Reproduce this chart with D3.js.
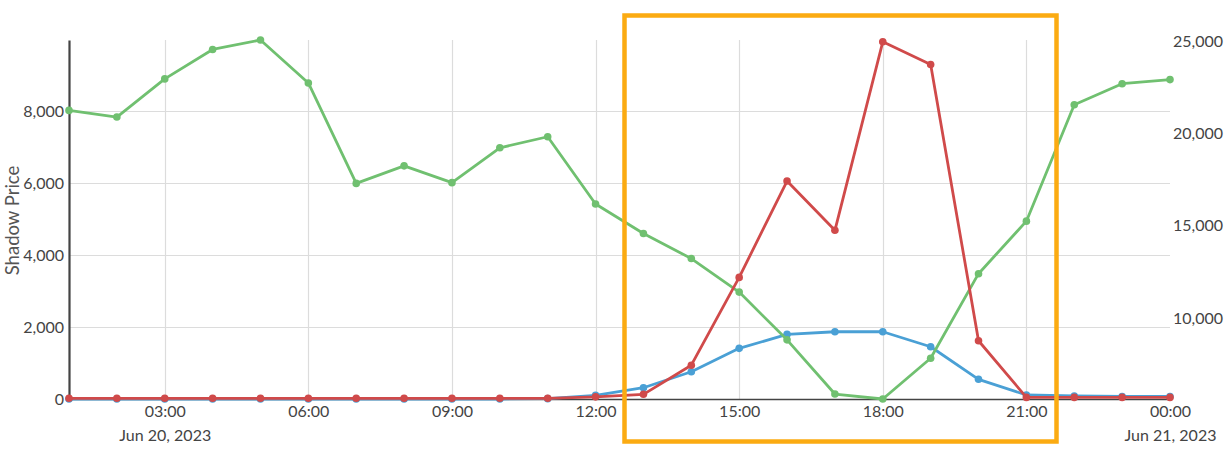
<!DOCTYPE html>
<html>
<head>
<meta charset="utf-8">
<script src="https://cdn.jsdelivr.net/npm/d3@7"></script>
<style>
  html, body { margin: 0; padding: 0; background: #fff; }
  svg { display: block; font-family: Lato, "Open Sans", sans-serif; }
</style>
</head>
<body>
<svg id="chart" width="1231" height="453"></svg>
<script>
// ---- data ----
const hours = ["2023-06-20T01:00","2023-06-20T02:00","2023-06-20T03:00","2023-06-20T04:00","2023-06-20T05:00","2023-06-20T06:00",
  "2023-06-20T07:00","2023-06-20T08:00","2023-06-20T09:00","2023-06-20T10:00","2023-06-20T11:00","2023-06-20T12:00",
  "2023-06-20T13:00","2023-06-20T14:00","2023-06-20T15:00","2023-06-20T16:00","2023-06-20T17:00","2023-06-20T18:00",
  "2023-06-20T19:00","2023-06-20T20:00","2023-06-20T21:00","2023-06-20T22:00","2023-06-20T23:00","2023-06-21T00:00"];
// right axis series (green)
const greenValues = [21260,20900,22970,24565,25080,22750,17300,18250,17340,19230,19830,16180,
  14580,13220,11400,8810,5870,5600,7810,12400,15250,21570,22710,22930];
// left axis series
const blueValues = [0,0,0,0,0,0,0,0,0,0,10,100,314,758,1408,1797,1870,1870,1453,547,111,83,70,70];
const redValues = [20,20,20,20,20,20,20,20,20,20,20,60,130,940,3380,6060,4690,9930,9300,1620,45,45,45,45];
const leftTicks = [0,2000,4000,6000,8000];
const rightTicks = [10000,15000,20000,25000];
const yLabel = "Shadow Price";

// ---- layout ----
const svg = d3.select("#chart");
const X0 = 69, X1 = 1170, Y0 = 40, Y1 = 399;
const parse = d3.timeParse("%Y-%m-%dT%H:%M");
const dates = hours.map(parse);

const x = d3.scaleTime().domain(d3.extent(dates)).range([X0, X1]);
const yL = d3.scaleLinear().domain([0, 9980]).range([Y1, Y0]);
const yR = d3.scaleLinear().domain(d3.extent(greenValues)).range([Y1, Y0]);

const colors = { green: "#70c070", blue: "#4aa0d5", red: "#d04a4a" };
const textColor = "#444";

// grid
const xTicks = x.ticks(d3.timeHour.every(3));
svg.append("g").selectAll("line").data(xTicks.filter(d => x(d) < X1 - 1)).join("line")
  .attr("x1", d => Math.round(x(d)) + 0.5).attr("x2", d => Math.round(x(d)) + 0.5)
  .attr("y1", Y0).attr("y2", Y1).attr("stroke", "#dcdcdc").attr("stroke-width", 1.2);
svg.append("g").selectAll("line").data(leftTicks.filter(d => d > 0)).join("line")
  .attr("x1", X0).attr("x2", X1)
  .attr("y1", d => Math.round(yL(d)) + 0.5).attr("y2", d => Math.round(yL(d)) + 0.5)
  .attr("stroke", "#dcdcdc").attr("stroke-width", 1.2);

// axes
const gx = svg.append("g").attr("transform", `translate(0,${Y1})`)
  .call(d3.axisBottom(x).tickValues(xTicks).tickSize(0).tickPadding(7).tickFormat(d3.timeFormat("%H:%M")));
gx.select(".domain").attr("stroke", "#444").attr("stroke-width", 1.3);
gx.selectAll("text").attr("font-size", 16).attr("fill", textColor).attr("font-family", "Lato");
gx.selectAll(".tick").each(function(d, i) {
  const showDate = i === 0 || (d.getHours() === 0 && d.getMinutes() === 0);
  if (showDate) {
    d3.select(this).append("text").attr("y", 31).attr("dy", "0.71em")
      .attr("fill", textColor).attr("font-size", 16).attr("font-family", "Lato")
      .attr("text-anchor", "middle")
      .text(d3.timeFormat("%b %-d, %Y")(d));
  }
});

const gl = svg.append("g").attr("transform", `translate(${X0},0)`)
  .call(d3.axisLeft(yL).tickValues(leftTicks).tickSize(0).tickPadding(5).tickFormat(d3.format(",")));
gl.select(".domain").attr("stroke", "#444").attr("stroke-width", 2.2);
gl.selectAll("text").attr("font-size", 16).attr("fill", textColor).attr("font-family", "Lato");

const gr = svg.append("g").attr("transform", `translate(${X1},0)`)
  .call(d3.axisRight(yR).tickValues(rightTicks).tickSize(0).tickPadding(3).tickFormat(d3.format(",")));
gr.select(".domain").remove();
gr.selectAll("text").attr("font-size", 16).attr("fill", textColor).attr("font-family", "Lato");

svg.append("text").attr("transform", `translate(19,${(Y0 + Y1) / 2 + 1}) rotate(-90)`)
  .attr("text-anchor", "middle").attr("font-size", 18.5).attr("fill", "#555").attr("font-family", "Lato")
  .text(yLabel);

// series
function drawSeries(values, yScale, color) {
  const pts = values.map((v, i) => [dates[i], v]);
  svg.append("path").datum(pts)
    .attr("fill", "none").attr("stroke", color).attr("stroke-width", 2.8)
    .attr("stroke-linejoin", "round")
    .attr("d", d3.line().x(d => x(d[0])).y(d => yScale(d[1])));
  svg.append("g").selectAll("circle").data(pts).join("circle")
    .attr("cx", d => x(d[0])).attr("cy", d => yScale(d[1])).attr("r", 3.8).attr("fill", color);
}
drawSeries(blueValues, yL, colors.blue);
drawSeries(greenValues, yR, colors.green);
drawSeries(redValues, yL, colors.red);

// highlight box
svg.append("rect").attr("x", 624.5).attr("y", 15.5).attr("width", 432).attr("height", 426)
  .attr("fill", "none").attr("stroke", "#fbab12").attr("stroke-width", 4.5);
</script>
</body>
</html>
